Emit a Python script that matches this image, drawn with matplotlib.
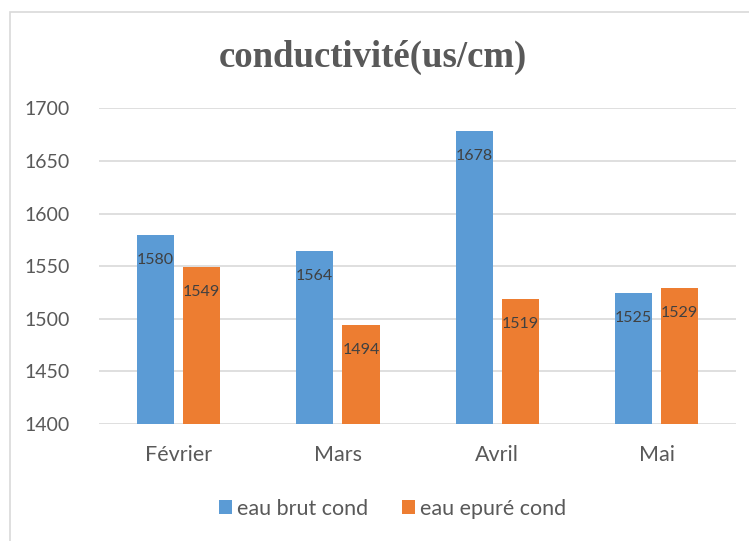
import matplotlib.pyplot as plt
import numpy as np
from matplotlib.patches import Rectangle

# data
mois = ['Février', 'Mars', 'Avril', 'Mai']
eau_brut = [1580, 1564, 1678, 1525]
eau_epure = [1549, 1494, 1519, 1529]

bleu = '#5B9BD5'
orange = '#ED7D31'
gris = '#595959'

plt.rcParams['font.family'] = ['Lato', 'DejaVu Sans']

fig = plt.figure(figsize=(7.49, 5.41), dpi=100)
ax = fig.add_axes([0.132, 0.216, 0.851, 0.584])

# chart frame
fig.patches.append(Rectangle((10 / 749, -0.1), 1.2, 1 - 12 / 541 + 0.1,
                             transform=fig.transFigure, fill=False,
                             edgecolor='#D9D9D9', lw=1.2))

x = np.arange(len(mois))
w = 0.233
off = 0.145
b1 = ax.bar(x - off, eau_brut, w, color=bleu, label='eau brut cond')
b2 = ax.bar(x + off, eau_epure, w, color=orange, label='eau epuré cond')

for bars in (b1, b2):
    for r in bars:
        ax.annotate('%d' % r.get_height(), (r.get_x() + r.get_width() / 2, r.get_height()),
                    xytext=(0, -18), textcoords='offset points', ha='center', va='center',
                    fontsize=11.5, color='#404040')

ax.set_ylim(1400, 1700)
ax.set_xlim(-0.5, 3.5)
ax.set_yticks(range(1400, 1701, 50))
ax.set_xticks(x)
ax.set_xticklabels(mois)
ax.yaxis.grid(True, color='#D9D9D9', lw=1.2)
ax.set_axisbelow(True)
for s in ax.spines.values():
    s.set_visible(False)
ax.tick_params(length=0, colors=gris)
ax.tick_params(axis='x', pad=15, labelsize=15.5)
ax.tick_params(axis='y', pad=21, labelsize=14)

fig.text(0.498, 0.893, 'conductivité(us/cm)', ha='center', va='center',
         fontsize=26.5, fontweight='bold', color=gris,
         family=['Liberation Serif', 'DejaVu Serif'])

leg = fig.legend(loc='center', bbox_to_anchor=(0.524, 0.06), ncol=2, frameon=False,
                 fontsize=15.5, handlelength=0.6, handleheight=0.6, handletextpad=0.25,
                 columnspacing=1.55)
for t in leg.get_texts():
    t.set_color(gris)

fig.savefig('out.png', dpi=100)
